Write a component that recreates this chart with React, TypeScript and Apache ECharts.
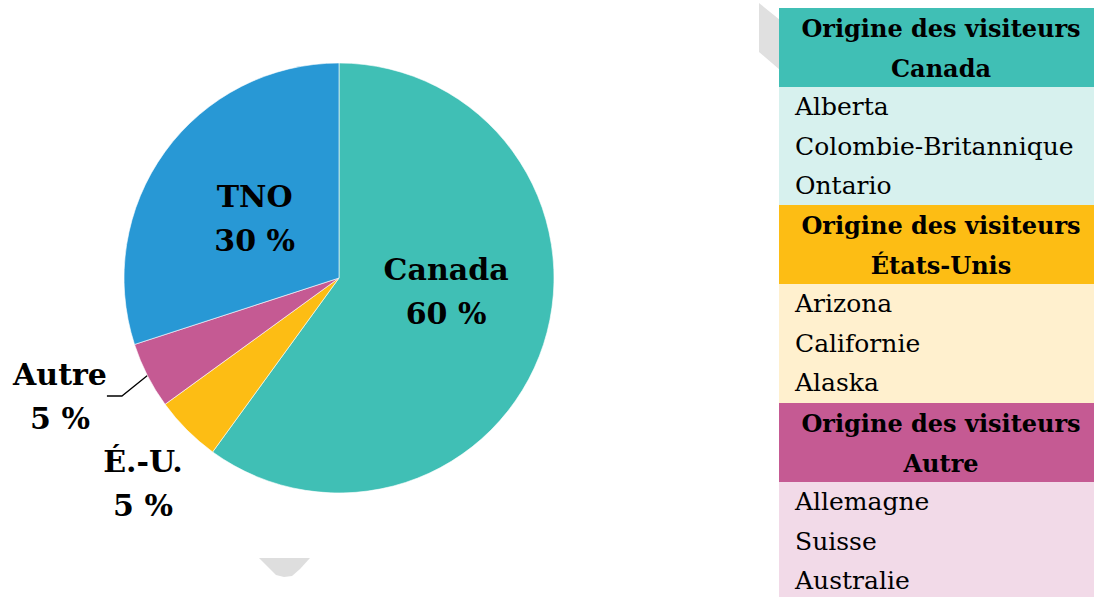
import React, { useEffect, useRef } from "react";
import * as echarts from "echarts";

const categories = ["Canada", "É.-U.", "Autre", "TNO"];
const shares = [60, 5, 5, 30];
const sliceColors = ["#40BFB5", "#FDBD14", "#C55A93", "#2898D5"];

const groupTitles = ["Canada", "États-Unis", "Autre"];
const groupItems = [
  ["Alberta", "Colombie-Britannique", "Ontario"],
  ["Arizona", "Californie", "Alaska"],
  ["Allemagne", "Suisse", "Australie"],
];
const headerColors = ["#40BFB5", "#FDBD14", "#C55A93"];
const bodyColors = ["#D7F1EE", "#FFF0CE", "#F2DAE8"];

const SERIF = "'DejaVu Serif', 'Liberation Serif', serif";

export default function App() {
  const ref = useRef<HTMLDivElement>(null);
  useEffect(() => {
    document.body.style.margin = "0";
    if (!ref.current) return;
    const chart = echarts.init(ref.current, undefined, { renderer: "svg" });

    const tableX = 779;
    const tableW = 1094 - 779 + 20;
    const headerTops = [8, 205, 403];
    const headerH = 79;
    const bodyH = 118;
    const rowH = bodyH / 3;
    const graphics: any[] = [];
    // decorative gray shapes
    graphics.push({
      type: "polygon",
      shape: { points: [[759, 3], [780, 20], [780, 70], [759, 52]] },
      style: { fill: "#E0E0E0" },
      z: 0,
    });
    graphics.push({
      type: "polygon",
      shape: {
        points: [[259, 558], [310, 558], [300, 569], [292, 576], [284, 577], [276, 575], [268, 567]],
      },
      style: { fill: "#DEDEDE" },
      z: 0,
    });
    groupTitles.forEach((title, gi) => {
      const top = headerTops[gi];
      graphics.push({
        type: "rect",
        shape: { x: tableX, y: top, width: tableW, height: headerH + 1 },
        style: { fill: headerColors[gi] },
        z: 1,
      });
      graphics.push({
        type: "rect",
        shape: { x: tableX, y: top + headerH, width: tableW, height: bodyH + 1 },
        style: { fill: bodyColors[gi] },
        z: 1,
      });
      graphics.push({
        type: "text",
        x: 941,
        y: top + headerH / 2 + 1,
        style: {
          text: "Origine des visiteurs\n" + title,
          fontFamily: SERIF,
          fontWeight: "bold",
          fontSize: 24,
          lineHeight: 40,
          fill: "#000",
          align: "center",
          verticalAlign: "middle",
        },
        z: 2,
      });
      groupItems[gi].forEach((item, ii) => {
        graphics.push({
          type: "text",
          x: 795,
          y: top + headerH + rowH * ii + rowH / 2,
          style: {
            text: item,
            fontFamily: SERIF,
            fontSize: 25,
            fill: "#000",
            align: "left",
            verticalAlign: "middle",
          },
          z: 2,
        });
      });
    });

    const outsideIdx = [1, 2];
    chart.setOption({
      animation: false,
      graphic: graphics,
      series: [
        {
          type: "pie",
          center: [339, 278],
          radius: 215,
          startAngle: 90,
          clockwise: true,
          data: categories.map((name, i) => ({
            name,
            value: shares[i],
            itemStyle: { color: sliceColors[i] },
            label: {
              position: outsideIdx.includes(i) ? "outside" : "inside",
            },
            labelLine: { show: i === 2, length: 15, length2: 15, lineStyle: { color: "#000", width: 1.3 } },
          })),
          itemStyle: { borderColor: "#ffffff", borderWidth: 0.6 },
          label: {
            show: true,
            formatter: "{b}\n{c} %",
            fontFamily: SERIF,
            fontWeight: "bold",
            fontSize: 30,
            lineHeight: 44,
            color: "#000",
            align: "center",
          },
          labelLayout: (params: any) => {
            if (params.dataIndex === 0) return { dx: 2, dy: -21 };
            if (params.dataIndex === 3) return { dx: 5, dy: 5 };
            if (params.dataIndex === 1)
              return { x: 143, y: 483, align: "center", verticalAlign: "middle" };
            if (params.dataIndex === 2)
              return { x: 60, y: 396, align: "center", verticalAlign: "middle" };
            return {};
          },
        },
      ],
    });
    return () => chart.dispose();
  }, []);
  return <div ref={ref} style={{ width: 1094, height: 597 }} />;
}
